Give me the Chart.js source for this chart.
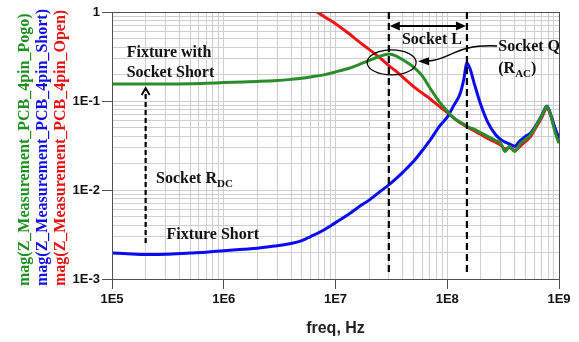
<!DOCTYPE html>
<html>
<head>
<meta charset="utf-8">
<script src="https://cdn.jsdelivr.net/npm/chart.js@4.4.1/dist/chart.umd.min.js"></script>
<style>
  body { margin: 0; background: #fff; }
</style>
</head>
<body>
<canvas id="chart" width="579" height="342"></canvas>
<script>
// frequency points (Hz) shared by the three traces
const freqHz = [1e5, 1.5e5, 2e5, 3e5, 5e5, 7e5, 1e6, 1.5e6, 2e6, 3e6,
  4e6, 5e6, 6e6, 8e6, 1e7, 1.3e7, 1.6e7, 2e7, 2.5e7, 3e7,
  3.5e7, 4e7, 5e7, 6e7, 7e7, 8.5e7, 1e8, 1.15e8, 1.3e8, 1.4e8,
  1.5e8, 1.6e8, 1.75e8, 2e8, 2.3e8, 2.7e8, 3e8, 3.3e8, 3.6e8, 4e8,
  4.5e8, 5e8, 5.5e8, 6.2e8, 7e8, 7.8e8, 8.5e8, 9.2e8, 1e9];

const pogoMag = [0.155, 0.155, 0.155, 0.155, 0.156, 0.158, 0.161, 0.164, 0.166, 0.170,
  0.175, 0.180, 0.186, 0.198, 0.212, 0.232, 0.255, 0.285, 0.318, 0.337,
  0.32, 0.29, 0.24, 0.19, 0.14, 0.098, 0.077, 0.064, 0.058, 0.055,
  0.052, 0.050, 0.048, 0.044, 0.040, 0.036, 0.034, 0.027, 0.031, 0.027,
  0.033, 0.037, 0.041, 0.052, 0.068, 0.087, 0.066, 0.045, 0.0335];

const shortMag = [0.00196, 0.00191, 0.00188, 0.0019, 0.00196, 0.002, 0.00208, 0.00216, 0.00222, 0.00237,
  0.0025, 0.0027, 0.003, 0.0036, 0.0043, 0.0053, 0.0064, 0.0077, 0.0096, 0.0114,
  0.0135, 0.0158, 0.021, 0.028, 0.036, 0.052, 0.066, 0.09, 0.12, 0.17,
  0.265, 0.23, 0.155, 0.09, 0.058, 0.042, 0.037, 0.0345, 0.033, 0.031,
  0.036, 0.040, 0.043, 0.053, 0.069, 0.088, 0.068, 0.05, 0.038];

const openMag = [null, null, null, null, null, null, null, null, null, null,
  null, null, 1.12, 0.88, 0.74, 0.58, 0.47, 0.38, 0.305, 0.25,
  0.215, 0.185, 0.145, 0.122, 0.106, 0.087, 0.074, 0.064, 0.057, 0.054,
  0.051, 0.049, 0.046, 0.042, 0.038, 0.0345, 0.032, 0.029, 0.030, 0.028,
  0.031, 0.035, 0.039, 0.05, 0.065, 0.083, 0.067, 0.048, 0.037];

const seriesNames = [
  "mag(Z_Measurement_PCB_4pin_Pogo)",
  "mag(Z_Measurement_PCB_4pin_Short)",
  "mag(Z_Measurement_PCB_4pin_Open)",
];
const seriesColors = ["#2a8c2a", "#0a0af5", "#f01414"];
const titleColors = ["#1f8f1f", "#1010e6", "#e81010"];

const xDecades = [1e5, 1e6, 1e7, 1e8, 1e9];
const yDecades = [1e-3, 1e-2, 1e-1, 1];

// annotation anchors, in data units
const socketL = [3e7, 1.5e8];
const rdcFreq = 2e5;

const SERIF = '"Liberation Serif", "Times New Roman", serif';
const SANS = '"Liberation Sans", Arial, sans-serif';

function isDecade(v) {
  const e = Math.round(Math.log10(v));
  return Math.abs(v / Math.pow(10, e) - 1) < 1e-6;
}
function decadeLabel(v) {
  const e = Math.round(Math.log10(v));
  return e === 0 ? "1" : "1E" + e;
}
function gridValues(decades) {
  const out = [];
  decades.forEach((d, i) => {
    if (i === decades.length - 1) { out.push(d); return; }
    for (let m = 1; m < 10; m++) out.push(d * m);
  });
  return out.map((v) => ({ value: v, major: isDecade(v) }));
}

function points(values) {
  return freqHz.map((f, i) => ({ x: f, y: values[i] }));
}

function subText(ctx, parts, x, y) {
  // parts: [text, isSub]
  let cx = x;
  parts.forEach(([t, sub]) => {
    ctx.font = sub ? "bold 11px " + SERIF : "bold 16px " + SERIF;
    ctx.fillText(t, cx, sub ? y + 4 : y);
    cx += ctx.measureText(t).width;
  });
}

function arrowHead(ctx, x, y, dir, len, half) {
  ctx.beginPath();
  ctx.moveTo(x, y);
  ctx.lineTo(x - dir * len, y - half);
  ctx.lineTo(x - dir * len, y + half);
  ctx.closePath();
  ctx.fill();
}

const annotate = {
  id: "annotate",
  afterDraw(chart) {
    const { ctx, chartArea: a } = chart;
    const px = (f) => chart.scales.x.getPixelForValue(f);
    const py = (v) => chart.scales.y.getPixelForValue(v);
    ctx.save();

    // plot frame
    ctx.strokeStyle = "#505050";
    ctx.lineWidth = 1;
    ctx.strokeRect(Math.round(a.left) + 0.5, Math.round(a.top) + 0.5,
      Math.round(a.right - a.left), Math.round(a.bottom - a.top));

    ctx.strokeStyle = "#000";
    ctx.fillStyle = "#000";

    // Socket L dashed markers
    ctx.lineWidth = 2.2;
    ctx.setLineDash([7, 4]);
    socketL.forEach((f) => {
      ctx.beginPath();
      ctx.moveTo(px(f), a.top);
      ctx.lineTo(px(f), py(1.17e-3));
      ctx.stroke();
    });

    // Socket RDC dashed arrow
    const rx = px(rdcFreq);
    const tip = py(0.14);
    ctx.setLineDash([5, 3]);
    ctx.beginPath();
    ctx.moveTo(rx, py(0.00254));
    ctx.lineTo(rx, tip + 2);
    ctx.stroke();
    ctx.setLineDash([]);
    ctx.lineWidth = 1.8;
    ctx.beginPath();
    ctx.moveTo(rx - 4, tip + 7);
    ctx.lineTo(rx, tip);
    ctx.lineTo(rx + 4, tip + 7);
    ctx.stroke();

    // Socket L double arrow
    const ly = py(0.696);
    const l0 = px(socketL[0]), l1 = px(socketL[1]);
    ctx.lineWidth = 2;
    ctx.beginPath();
    ctx.moveTo(l0 + 6, ly);
    ctx.lineTo(l1 - 6, ly);
    ctx.stroke();
    arrowHead(ctx, l0 + 1, ly, -1, 10, 4.5);
    arrowHead(ctx, l1 - 1, ly, 1, 10, 4.5);

    // ellipse around the pogo peak
    ctx.lineWidth = 1.2;
    ctx.beginPath();
    ctx.ellipse(px(3.18e7), py(0.271), 24.5, 12.5, 0, 0, Math.PI * 2);
    ctx.stroke();

    // curved arrow from Socket Q
    ctx.lineWidth = 1.5;
    ctx.beginPath();
    ctx.moveTo(px(2.79e8), py(0.415));
    ctx.bezierCurveTo(px(1.17e8), py(0.437), px(1.06e8), py(0.289), px(6.73e7), py(0.281));
    ctx.stroke();
    arrowHead(ctx, px(5.47e7), py(0.279), -1, 11, 4);

    // annotation text
    ctx.textAlign = "left";
    ctx.textBaseline = "alphabetic";
    ctx.fillStyle = "#111";
    ctx.font = "bold 16px " + SERIF;
    ctx.fillText("Fixture with", px(1.354e5), py(0.312));
    ctx.fillText("Socket Short", px(1.354e5), py(0.186));
    ctx.fillText("Fixture Short", px(3.08e5), py(0.00285));
    ctx.fillText("Socket Q", px(2.86e8), py(0.365));
    subText(ctx, [["Socket R", false], ["DC", true]], px(2.48e5), py(0.012));
    subText(ctx, [["(R", false], ["AC", true], [")", false]], px(2.86e8), py(0.208));
    ctx.font = "bold 16px " + SERIF;
    ctx.textAlign = "center";
    ctx.fillText("Socket L", px(7.3e7), py(0.437));

    // x axis title
    ctx.font = "bold 16px " + SANS;
    ctx.fillStyle = "#222";
    ctx.fillText("freq, Hz", (a.left + a.right) / 2, 333);

    // stacked, coloured y axis titles
    ctx.font = "bold 16px " + SERIF;
    ctx.textAlign = "left";
    const baseX = [28.5, 46.7, 65];
    seriesNames.forEach((name, i) => {
      ctx.save();
      ctx.translate(baseX[i], 286);
      ctx.rotate(-Math.PI / 2);
      ctx.fillStyle = titleColors[i];
      ctx.fillText(name, 0, 0);
      ctx.restore();
    });

    ctx.restore();
  },
};

const tickFont = { family: SANS, size: 13, weight: "bold" };

new Chart(document.getElementById("chart"), {
  type: "line",
  data: {
    datasets: [
      { label: seriesNames[0], data: points(pogoMag), borderColor: seriesColors[0] },
      { label: seriesNames[1], data: points(shortMag), borderColor: seriesColors[1] },
      { label: seriesNames[2], data: points(openMag), borderColor: seriesColors[2], clip: 0 },
    ],
  },
  options: {
    responsive: false,
    animation: false,
    events: [],
    layout: { padding: { left: 72, right: 20, top: 12, bottom: 0 } },
    elements: {
      line: { borderWidth: 3, cubicInterpolationMode: "monotone", fill: false },
      point: { radius: 0 },
    },
    plugins: { legend: { display: false }, tooltip: { enabled: false } },
    scales: {
      x: {
        type: "logarithmic",
        min: 1e5,
        max: 1e9,
        afterBuildTicks: (s) => { s.ticks = gridValues(xDecades); },
        afterFit: (s) => { s.height = 63; s.paddingLeft = 0; s.paddingRight = 0; },
        ticks: {
          autoSkip: false,
          maxRotation: 0,
          padding: 3,
          color: "#111",
          font: tickFont,
          callback: (v) => (isDecade(v) ? decadeLabel(v) : ""),
        },
        grid: {
          color: "#cfcfcf",
          tickLength: 10,
          tickColor: (c) => (c.tick && isDecade(c.tick.value) ? "#505050" : "rgba(0,0,0,0)"),
        },
        border: { color: "#505050" },
      },
      y: {
        type: "logarithmic",
        min: 1e-3,
        max: 1,
        afterBuildTicks: (s) => { s.ticks = gridValues(yDecades); },
        afterFit: (s) => { s.width = 40; s.paddingTop = 0; s.paddingBottom = 0; },
        ticks: {
          autoSkip: false,
          padding: 2,
          color: "#111",
          font: tickFont,
          callback: (v) => (isDecade(v) ? decadeLabel(v) : ""),
        },
        grid: {
          color: "#cfcfcf",
          tickLength: 10,
          tickColor: (c) => (c.tick && isDecade(c.tick.value) ? "#505050" : "rgba(0,0,0,0)"),
        },
        border: { color: "#505050" },
      },
    },
  },
  plugins: [annotate],
});
</script>
</body>
</html>
